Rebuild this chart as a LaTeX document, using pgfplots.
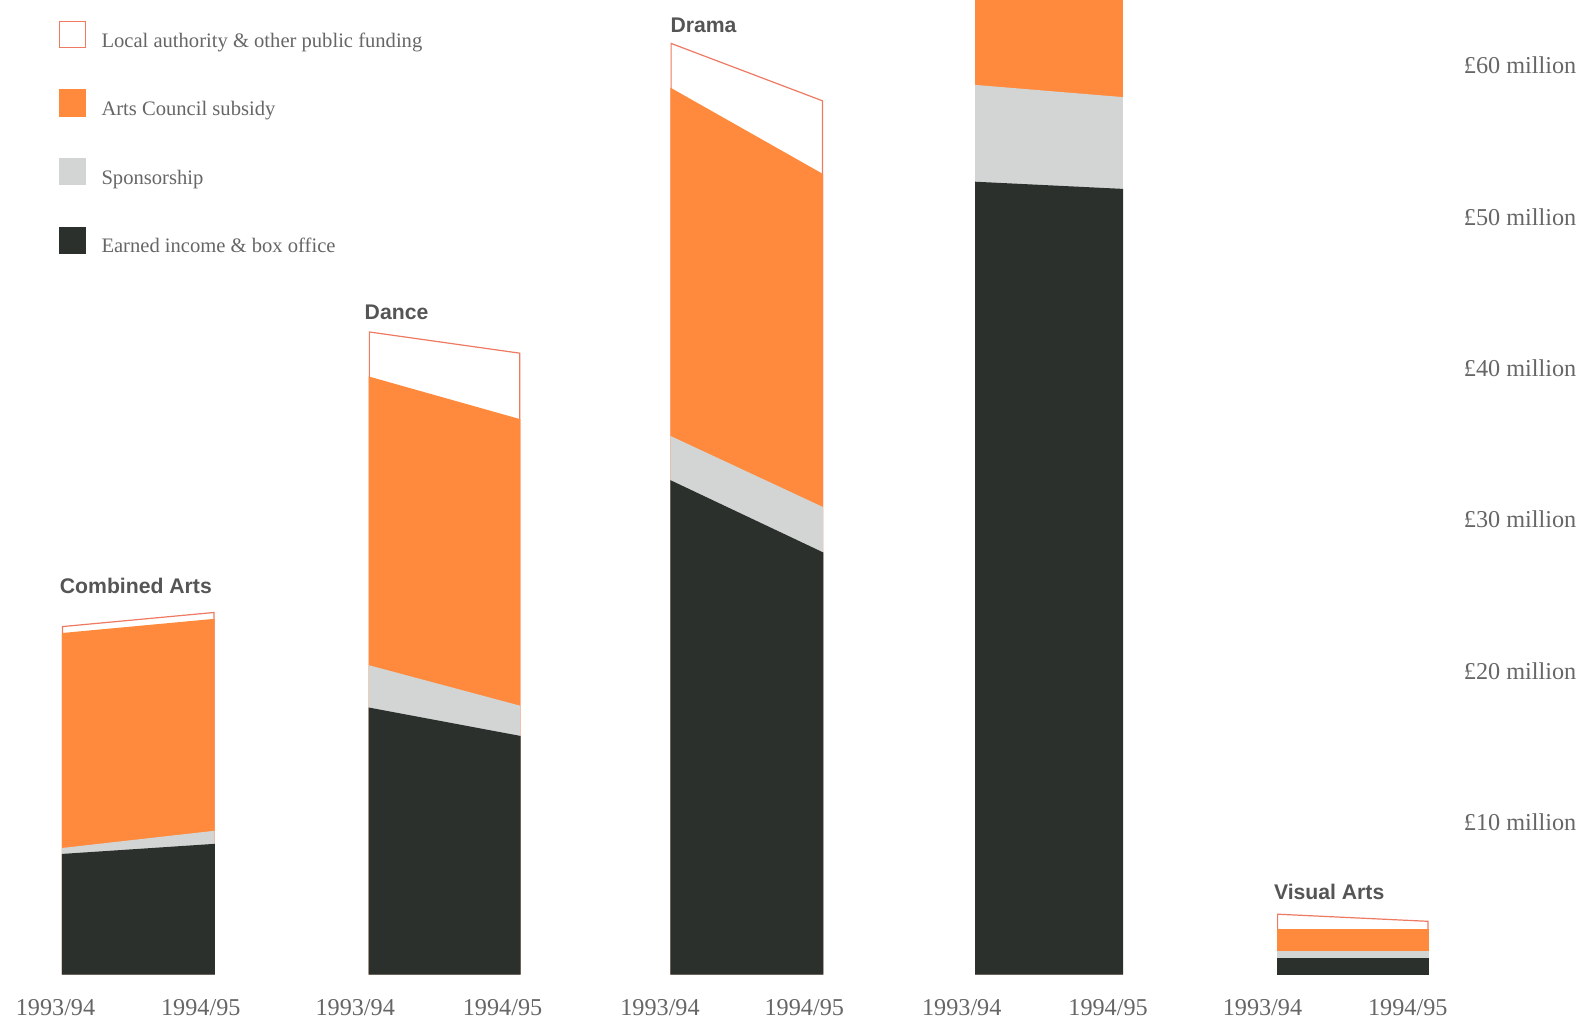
\documentclass[border=0pt]{standalone}
\usepackage{fontspec}
\setmainfont{Liberation Serif}
\newfontfamily\titlefont{Liberation Sans}
\usepackage{pgfplots}
\usepackage{pgfplotstable}
\pgfplotsset{compat=1.18}
\definecolor{cOrange}{HTML}{FF8A3D}
\definecolor{cGrey}{HTML}{D3D5D5}
\definecolor{cDark}{HTML}{2B302D}
\definecolor{cLine}{HTML}{EE7A62}
\definecolor{cText}{HTML}{666666}
\definecolor{cTitle}{HTML}{555555}

% values in £ million: earned income, sponsorship, Arts Council subsidy, local authority
\pgfplotstableread{
x earned spons arts local
62 7.87 0.40 14.20 0.47
212 8.53 0.87 14.00 0.47
}\tabCombined
\pgfplotstableread{
x earned spons arts local
366 17.53 2.80 19.07 3.00
515 15.67 2.00 18.93 4.40
}\tabDance
\pgfplotstableread{
x earned spons arts local
665 32.53 2.93 23.00 3.00
815 27.80 3.00 22.00 4.87
}\tabDrama
\pgfplotstableread{
x earned spons arts local
967 52.27 6.40 20.00 3.00
1112 51.80 6.07 20.00 3.00
}\tabMusic
\pgfplotstableread{
x earned spons arts local
1266 1.00 0.47 1.47 1.00
1415 1.00 0.47 1.47 0.53
}\tabVisual

\newcommand{\drawcat}[1]{%
  \addplot[fill=white, draw=cLine, line width=0.6pt, forget plot]
    table[x=x, y expr=\thisrow{earned}+\thisrow{spons}+\thisrow{arts}+\thisrow{local}] {#1} \closedcycle;
  \addplot[fill=cOrange, draw=cOrange, line width=0.7pt, forget plot]
    table[x=x, y expr=\thisrow{earned}+\thisrow{spons}+\thisrow{arts}] {#1} \closedcycle;
  \addplot[fill=cGrey, draw=cGrey, line width=0.7pt, forget plot]
    table[x=x, y expr=\thisrow{earned}+\thisrow{spons}] {#1} \closedcycle;
  \addplot[fill=cDark, draw=cDark, line width=0.8pt, forget plot]
    table[x=x, y=earned] {#1} \closedcycle;
}

\begin{document}
\begin{tikzpicture}
\begin{axis}[
  scale only axis,
  width=784pt, height=505.5pt,
  xmin=0, xmax=1568,
  ymin=-3.067, ymax=64.33,
  axis line style={draw=none},
  tick style={draw=none},
  major tick length=0pt,
  xtick={55,199,352,498,654,797,953,1098,1251,1395},
  xticklabels={1993/94,1994/95,1993/94,1994/95,1993/94,1994/95,1993/94,1994/95,1993/94,1994/95},
  xticklabel style={anchor=center, yshift=6.5pt, font=\fontsize{12}{14}\selectfont, text=cText},
  ytick={10,20,30,40,50,60},
  yticklabels={£10 million,£20 million,£30 million,£40 million,£50 million,£60 million},
  yticklabel pos=right,
  yticklabel style={anchor=east, xshift=0.5pt, font=\fontsize{12}{14}\selectfont, text=cText},
  legend style={at={(axis cs:58,63.0)}, anchor=north west, draw=none, fill=none,
    inner sep=0pt, row sep=17.5pt, font=\fontsize{10.2}{12}\selectfont, text=cText,
    cells={anchor=west}},
  legend cell align=left,
  legend image code/.code={\draw[#1] (0pt,-3pt) rectangle (13pt,10pt);},
  /tikz/every even column/.append style={column sep=0pt},
]
\path (rel axis cs:0,0) rectangle (rel axis cs:1,1);
\addlegendimage{fill=white, draw=cLine, line width=0.6pt}
\addlegendentry{\hspace{5.5pt}Local authority \& other public funding}
\addlegendimage{fill=cOrange, draw=cOrange}
\addlegendentry{\hspace{5.5pt}Arts Council subsidy}
\addlegendimage{fill=cGrey, draw=cGrey}
\addlegendentry{\hspace{5.5pt}Sponsorship}
\addlegendimage{fill=cDark, draw=cDark}
\addlegendentry{\hspace{5.5pt}Earned income \& box office}

\drawcat{\tabCombined}
\drawcat{\tabDance}
\drawcat{\tabDrama}
\drawcat{\tabMusic}
\drawcat{\tabVisual}

\node[anchor=west, inner sep=0pt, text=cTitle, font=\titlefont\bfseries\fontsize{10.5}{12}\selectfont] at (axis cs:59,25.6) {Combined Arts};
\node[anchor=west, inner sep=0pt, text=cTitle, font=\titlefont\bfseries\fontsize{10.5}{12}\selectfont] at (axis cs:361,43.67) {Dance};
\node[anchor=west, inner sep=0pt, text=cTitle, font=\titlefont\bfseries\fontsize{10.5}{12}\selectfont] at (axis cs:664,62.67) {Drama};
\node[anchor=west, inner sep=0pt, text=cTitle, font=\titlefont\bfseries\fontsize{10.5}{12}\selectfont] at (axis cs:1262,5.4) {Visual Arts};
\end{axis}
\end{tikzpicture}
\end{document}
